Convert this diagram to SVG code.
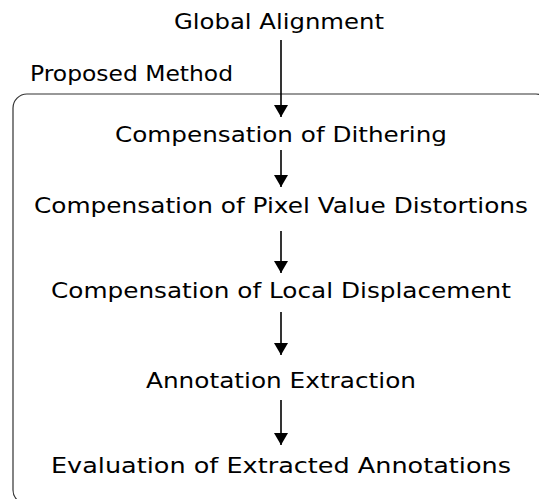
<svg xmlns="http://www.w3.org/2000/svg" width="539" height="499" viewBox="0 0 539 499">
<style>
text{font-family:"DejaVu Sans",Verdana,sans-serif;font-size:21.5px;fill:#000}
.c{text-anchor:middle}
.ln{stroke:#000;stroke-width:1.6;fill:none}
.box{fill:none;stroke:#333;stroke-width:1.2}
</style>
<defs>
<marker id="ah" viewBox="0 0 12 14" refX="12" refY="7" markerWidth="12" markerHeight="14" markerUnits="userSpaceOnUse" orient="auto">
<path d="M0,0 L12,7 L0,14 Z" fill="#000"/>
</marker>
</defs>
<rect width="539" height="499" fill="#fff"/>
<g id="proposed-method">
<rect class="box" x="13" y="94" width="537" height="410" rx="14"/>
<text x="30" y="81" textLength="203" lengthAdjust="spacingAndGlyphs">Proposed Method</text>
</g>
<g id="global-alignment"><text class="c" x="279" y="29" textLength="210" lengthAdjust="spacingAndGlyphs">Global Alignment</text></g>
<g id="dithering"><text class="c" x="281" y="142" textLength="332" lengthAdjust="spacingAndGlyphs">Compensation of Dithering</text></g>
<g id="pixel"><text class="c" x="281" y="213" textLength="494" lengthAdjust="spacingAndGlyphs">Compensation of Pixel Value Distortions</text></g>
<g id="local"><text class="c" x="281" y="298" textLength="460" lengthAdjust="spacingAndGlyphs">Compensation of Local Displacement</text></g>
<g id="extraction"><text class="c" x="281" y="388" textLength="270" lengthAdjust="spacingAndGlyphs">Annotation Extraction</text></g>
<g id="evaluation"><text class="c" x="281" y="473" textLength="460" lengthAdjust="spacingAndGlyphs">Evaluation of Extracted Annotations</text></g>
<g id="connectors">
<line class="ln" x1="281" y1="40" x2="281" y2="117" marker-end="url(#ah)"/>
<line class="ln" x1="281" y1="150" x2="281" y2="187" marker-end="url(#ah)"/>
<line class="ln" x1="281" y1="231" x2="281" y2="273" marker-end="url(#ah)"/>
<line class="ln" x1="281" y1="312" x2="281" y2="355" marker-end="url(#ah)"/>
<line class="ln" x1="281" y1="400" x2="281" y2="445" marker-end="url(#ah)"/>
</g>
</svg>
